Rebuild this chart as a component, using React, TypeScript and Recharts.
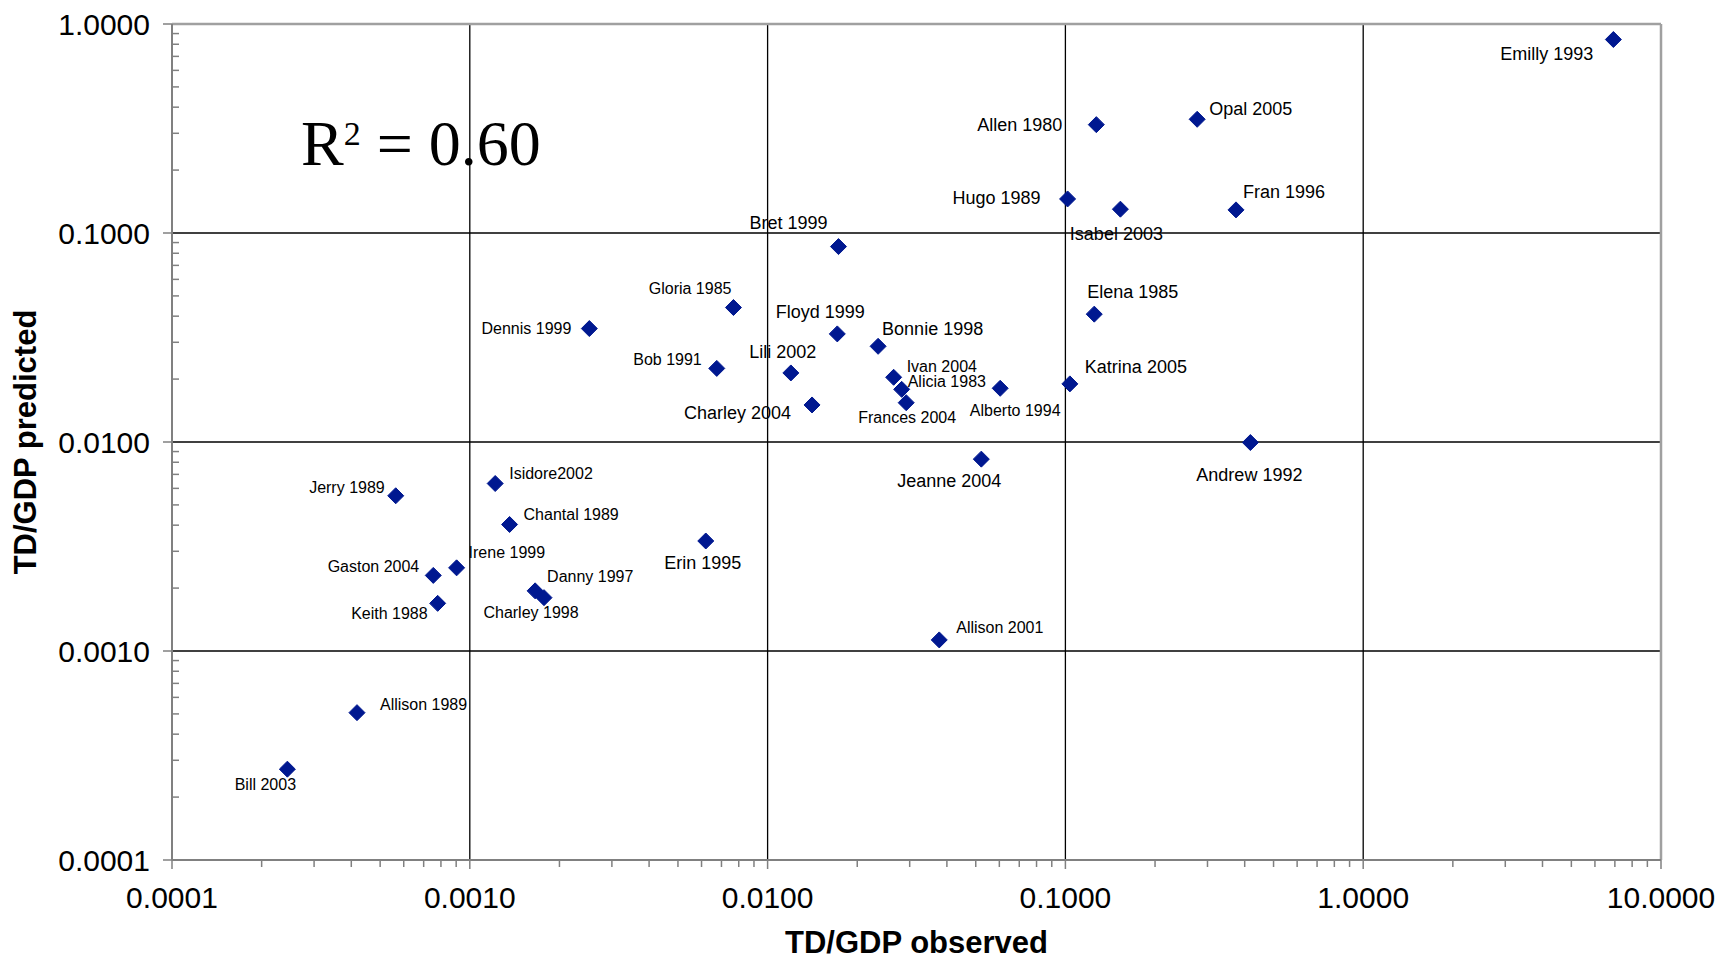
import { ScatterChart, Scatter, XAxis, YAxis, ReferenceLine, Label } from "recharts"

// storms, observed vs predicted TD/GDP
const stormNames = [
  "Emilly 1993", "Opal 2005", "Allen 1980", "Hugo 1989", "Isabel 2003", "Fran 1996",
  "Bret 1999", "Gloria 1985", "Dennis 1999", "Floyd 1999", "Bonnie 1998", "Elena 1985",
  "Bob 1991", "Lili 2002", "Ivan 2004", "Alicia 1983", "Frances 2004", "Charley 2004",
  "Alberto 1994", "Katrina 2005", "Andrew 1992", "Jeanne 2004", "Jerry 1989", "Isidore2002",
  "Chantal 1989", "Erin 1995", "Irene 1999", "Gaston 2004", "Keith 1988", "Danny 1997",
  "Charley 1998", "Allison 2001", "Allison 1989", "Bill 2003",
]
const tdGdpObserved = [
  6.92, 0.277, 0.127, 0.1017, 0.153, 0.374,
  0.0173, 0.00768, 0.00252, 0.01714, 0.0235, 0.125,
  0.00675, 0.01197, 0.0265, 0.0282, 0.0292, 0.0141,
  0.0604, 0.1035, 0.418, 0.0522, 0.000564, 0.001217,
  0.00136, 0.0062, 0.000903, 0.000754, 0.00078, 0.001657,
  0.001775, 0.0377, 0.000418, 0.000244,
]
const tdGdpPredicted = [
  0.843, 0.35, 0.33, 0.1455, 0.13, 0.129,
  0.0861, 0.044, 0.0349, 0.0329, 0.0287, 0.0409,
  0.0225, 0.0214, 0.0204, 0.01786, 0.01542, 0.01504,
  0.01807, 0.01897, 0.00994, 0.00828, 0.00553, 0.00633,
  0.00403, 0.00336, 0.0025, 0.0023, 0.00169, 0.00194,
  0.0018, 0.00113, 0.000507, 0.000272,
]

// where each name sits next to its marker: [dx, dy, anchor, large font]
const labelPlacement: [number, number, string, boolean][] = [
  [-20, 14, "end", true], [12, -10, "start", true], [-34, 0, "end", true], [-27, -1, "end", true],
  [-4, 25, "middle", true], [7, -18, "start", true], [-11, -24, "end", true], [-2, -19, "end", false],
  [-18, 0, "end", false], [-17, -22, "middle", true], [4, -17, "start", true], [-7, -22, "start", true],
  [-15, -9, "end", false], [-8, -21, "middle", true], [13, -11, "start", false], [6, -8, "start", false],
  [1, 15, "middle", false], [-21, 8, "end", true], [15, 22, "middle", false], [15, -17, "start", true],
  [-1, 32, "middle", true], [-32, 22, "middle", true], [-11, -8, "end", false], [14, -10, "start", false],
  [14, -10, "start", false], [-3, 22, "middle", true], [12, -15, "start", false], [-14, -9, "end", false],
  [-10, 10, "end", false], [12, -14, "start", false], [-13, 15, "middle", false], [17, -12, "start", false],
  [23, -8, "start", false], [-22, 15, "middle", false],
]

const xDecades = [0.0001, 0.001, 0.01, 0.1, 1, 10]
const yDecades = [0.0001, 0.001, 0.01, 0.1, 1]
const minorSteps = [2, 3, 4, 5, 6, 7, 8, 9]

const withMinor = (decades: number[]) => {
  const out: number[] = []
  decades.forEach((d, i) => {
    out.push(d)
    if (i < decades.length - 1) minorSteps.forEach((m) => out.push(d * m))
  })
  return out
}
const xTicks = withMinor(xDecades)
const yTicks = withMinor(yDecades)

const isDecade = (v: number) => Math.abs(Math.log10(v) - Math.round(Math.log10(v))) < 1e-6

const points = stormNames.map((name, i) => ({
  name,
  x: tdGdpObserved[i],
  y: tdGdpPredicted[i],
  dx: labelPlacement[i][0],
  dy: labelPlacement[i][1],
  anchor: labelPlacement[i][2],
  large: labelPlacement[i][3],
}))

const FONT = "'Liberation Sans', Arial, sans-serif"
const AXIS_GREY = "#808080"

function XTick(props: any) {
  const { x, y, payload } = props
  const major = isDecade(payload.value)
  return (
    <g>
      <line x1={x} x2={x} y1={y} y2={y + (major ? 9 : 7)} stroke={AXIS_GREY} strokeWidth={1.5} />
      {major && (
        <text x={x} y={y + 37} textAnchor="middle" dominantBaseline="central" fontSize={30} fontFamily={FONT} fill="#000">
          {payload.value.toFixed(4)}
        </text>
      )}
    </g>
  )
}

function YTick(props: any) {
  const { x, y, payload } = props
  const major = isDecade(payload.value)
  return (
    <g>
      {major ? (
        <line x1={x - 9} x2={x} y1={y} y2={y} stroke={AXIS_GREY} strokeWidth={1.5} />
      ) : (
        <line x1={x} x2={x + 7} y1={y} y2={y} stroke={AXIS_GREY} strokeWidth={1.5} />
      )}
      {major && (
        <text x={x - 22} y={y} textAnchor="end" dominantBaseline="central" fontSize={30} fontFamily={FONT} fill="#000">
          {payload.value.toFixed(4)}
        </text>
      )}
    </g>
  )
}

function Diamond(props: any) {
  const { cx, cy } = props
  const p = props.payload ?? props
  const r = 8
  return (
    <g>
      <polygon
        points={`${cx},${cy - r} ${cx + r},${cy} ${cx},${cy + r} ${cx - r},${cy}`}
        fill="#001890"
        stroke="#001890"
        strokeWidth={1}
        strokeLinejoin="round"
      />
      <text
        x={cx + p.dx}
        y={cy + p.dy}
        textAnchor={p.anchor}
        dominantBaseline="central"
        fontSize={p.large ? 18 : 16}
        fontFamily={FONT}
        fill="#000"
      >
        {p.name}
      </text>
    </g>
  )
}

export default function App() {
  return (
    <div style={{ position: "relative", width: 1736, height: 960 }}>
      <style>{`body{margin:0}`}</style>
      <ScatterChart width={1736} height={960} margin={{ top: 24, right: 75, left: 22, bottom: 4 }}>
        <XAxis
          type="number"
          dataKey="x"
          scale="log"
          domain={[0.0001, 10]}
          allowDataOverflow
          ticks={xTicks}
          interval={0}
          tick={<XTick />}
          tickLine={false}
          tickSize={0}
          tickMargin={0}
          height={96}
          axisLine={{ stroke: AXIS_GREY, strokeWidth: 2 }}
        >
          <Label
            content={(p: any) => {
              const vb = p.viewBox
              return (
                <text x={vb.x + vb.width / 2} y={vb.y + vb.height - 3} textAnchor="middle" fontSize={31} fontWeight="bold" fontFamily={FONT} fill="#000">
                  TD/GDP observed
                </text>
              )
            }}
          />
        </XAxis>
        <YAxis
          type="number"
          dataKey="y"
          scale="log"
          domain={[0.0001, 1]}
          allowDataOverflow
          ticks={yTicks}
          interval={0}
          tick={<YTick />}
          tickLine={false}
          tickSize={0}
          tickMargin={0}
          width={150}
          axisLine={{ stroke: AXIS_GREY, strokeWidth: 2 }}
        >
          <Label
            content={(p: any) => {
              const vb = p.viewBox
              const cx = vb.x + 3
              const cy = vb.y + vb.height / 2
              return (
                <text x={cx} y={cy} transform={`rotate(-90 ${cx} ${cy})`} textAnchor="middle" dominantBaseline="central" fontSize={31} fontWeight="bold" fontFamily={FONT} fill="#000">
                  TD/GDP predicted
                </text>
              )
            }}
          />
        </YAxis>
        {xDecades.slice(1, -1).map((v) => (
          <ReferenceLine key={`gx${v}`} x={v} stroke="#000" strokeWidth={1.3} />
        ))}
        {yDecades.slice(1, -1).map((v) => (
          <ReferenceLine key={`gy${v}`} y={v} stroke="#000" strokeWidth={1.3} />
        ))}
        <ReferenceLine x={10} stroke="#a0a0a0" strokeWidth={2.5} />
        <ReferenceLine y={1} stroke="#a0a0a0" strokeWidth={2.5} />
        <Scatter data={points} fill="#001890" shape={<Diamond />} isAnimationActive={false} />
      </ScatterChart>
      <svg width={1736} height={960} style={{ position: "absolute", left: 0, top: 0, pointerEvents: "none" }}>
        <text x={301} y={165} fontFamily="'Liberation Serif', 'Times New Roman', serif" fontSize={64} fill="#000" style={{ whiteSpace: "pre" }}>
          R<tspan dy={-20} fontSize={34}>2</tspan>
          <tspan dy={20}> = 0.60</tspan>
        </text>
      </svg>
    </div>
  )
}
